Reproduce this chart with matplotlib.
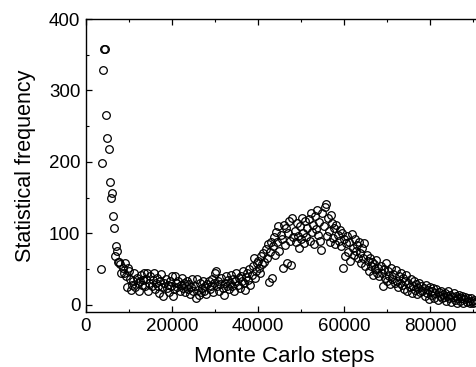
import numpy as np
import matplotlib.pyplot as plt
from matplotlib.ticker import MultipleLocator

plt.rcParams['font.family'] = ['Liberation Sans', 'DejaVu Sans']

# histogram bins of the run, every 250 Monte Carlo steps
steps = np.arange(3500, 90501, 250)

# counts per bin, one row per 5000 steps
freq = [
    50, 199, 328, 358, 358, 266, 234, 218, 172, 150, 156, 125, 107, 69, 83, 76, 60, 60, 57, 45,
    51, 44, 58, 40, 25, 51, 47, 36, 21, 28, 34, 44, 25, 38, 30, 19, 33, 42, 28, 35,
    44, 27, 36, 44, 20, 31, 40, 26, 35, 45, 22, 30, 38, 27, 17, 33, 43, 25, 12, 30,
    36, 24, 28, 18, 33, 26, 40, 13, 22, 41, 30, 25, 34, 20, 28, 37, 24, 31, 18, 27,
    33, 22, 29, 15, 25, 36, 19, 27, 9, 36, 21, 14, 30, 18, 24, 33, 20, 26, 15, 29,
    33, 22, 27, 36, 18, 30, 44, 48, 26, 34, 20, 29, 38, 24, 14, 31, 40, 27, 35, 22,
    30, 42, 26, 36, 19, 33, 45, 28, 38, 24, 41, 33, 47, 30, 21, 39, 44, 35, 50, 28,
    42, 55, 65, 38, 47, 58, 62, 52, 45, 68, 57, 72, 60, 78, 66, 85, 32, 74, 88, 38,
    82, 95, 70, 102, 88, 110, 76, 98, 92, 51, 112, 84, 108, 59, 100, 118, 90, 56, 121, 95,
    104, 88, 115, 96, 80, 110, 92, 122, 100, 86, 118, 95, 108, 120, 90, 128, 102, 112, 85, 124,
    106, 133, 98, 116, 90, 77, 128, 110, 137, 141, 96, 122, 104, 88, 126, 115, 94, 108, 85, 112,
    98, 90, 105, 82, 100, 51, 92, 68, 86, 97, 74, 88, 62, 99, 80, 70, 92, 76, 84, 66,
    88, 72, 58, 80, 65, 87, 55, 70, 62, 48, 66, 54, 60, 42, 57, 50, 63, 45, 52, 40,
    55, 44, 26, 50, 38, 58, 33, 47, 40, 29, 52, 36, 43, 30, 49, 34, 25, 41, 31, 45,
    28, 38, 22, 34, 42, 19, 30, 25, 36, 17, 27, 33, 21, 29, 15, 24, 31, 18, 26, 20,
    23, 12, 28, 17, 21, 8, 25, 14, 19, 24, 10, 16, 22, 7, 18, 13, 20, 9, 15, 11,
    17, 6, 13, 19, 9, 14, 4, 11, 16, 7, 12, 3, 10, 14, 5, 9, 12, 2, 8, 11,
    4, 9, 6, 2, 10, 5, 3, 7, 4,
]

W, H = 477, 367
fig = plt.figure(figsize=(W / 100, H / 100), dpi=100)
ax = fig.add_axes([86 / W, 55 / H, 395.6 / W, 293 / H])

ax.plot(steps, freq, 'o', ms=5.5, mfc='none', mec='black', mew=0.9)

ax.set_xlim(0, 92000)
ax.set_ylim(-10, 400)
ax.xaxis.set_major_locator(MultipleLocator(20000))
ax.xaxis.set_minor_locator(MultipleLocator(10000))
ax.yaxis.set_major_locator(MultipleLocator(100))
ax.yaxis.set_minor_locator(MultipleLocator(50))
ax.tick_params(which='both', direction='in', top=True, labelsize=13.5, pad=4)
ax.tick_params(which='major', length=4, width=0.9)
ax.tick_params(which='minor', length=2.5, width=0.8)
for s in ax.spines.values():
    s.set_linewidth(1.0)

ax.set_xlabel('Monte Carlo steps', fontsize=16, labelpad=8)
ax.set_ylabel('Statistical frequency', fontsize=15.5, labelpad=9)

fig.savefig('out.png', dpi=100)
